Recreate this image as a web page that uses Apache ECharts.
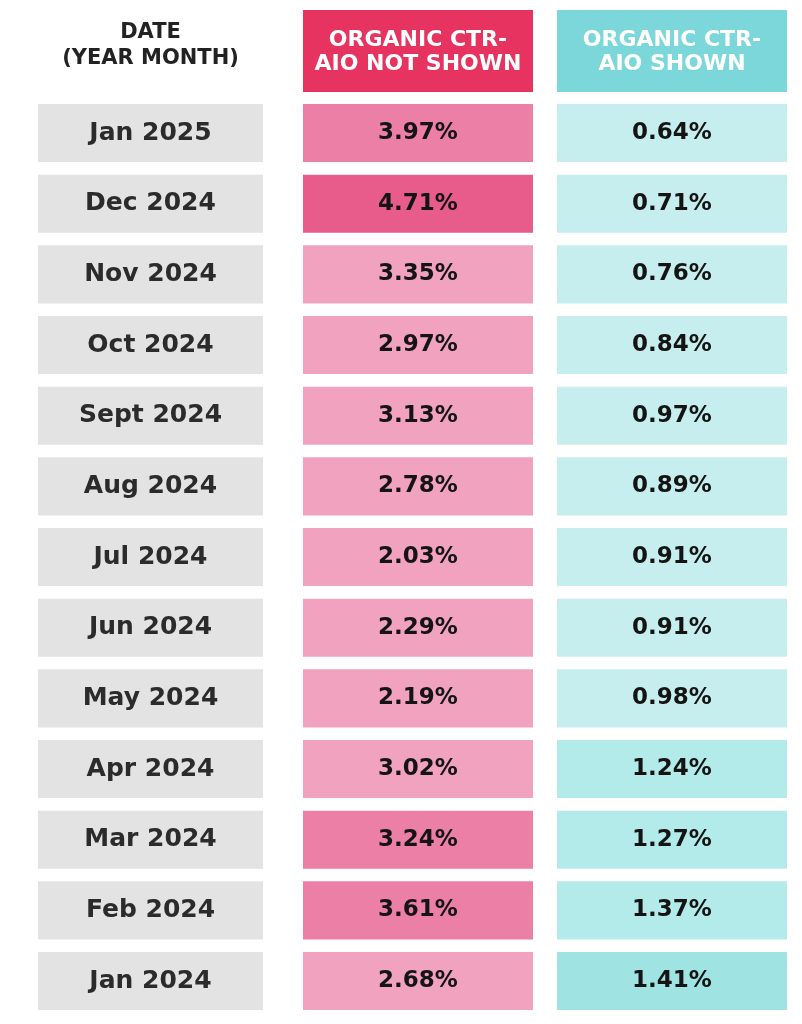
<!DOCTYPE html>
<html>
<head>
<meta charset="utf-8">
<script src="https://cdn.jsdelivr.net/npm/echarts@6/dist/echarts.min.js"></script>
<style>
  html, body { margin: 0; padding: 0; background: #fff; }
  #table { width: 802px; height: 1024px; }
</style>
</head>
<body>
<div id="table"></div>
<script>
var months = ['Jan 2025', 'Dec 2024', 'Nov 2024', 'Oct 2024', 'Sept 2024', 'Aug 2024',
  'Jul 2024', 'Jun 2024', 'May 2024', 'Apr 2024', 'Mar 2024', 'Feb 2024', 'Jan 2024'];
var ctrNotShown = [3.97, 4.71, 3.35, 2.97, 3.13, 2.78, 2.03, 2.29, 2.19, 3.02, 3.24, 3.61, 2.68];
var ctrShown = [0.64, 0.71, 0.76, 0.84, 0.97, 0.89, 0.91, 0.91, 0.98, 1.24, 1.27, 1.37, 1.41];
var headers = ['DATE\n(YEAR MONTH)', 'ORGANIC CTR-\nAIO NOT SHOWN', 'ORGANIC CTR-\nAIO SHOWN'];

var chart = echarts.init(document.getElementById('table'));

// column boxes (left, width) and the row band
var cols = [[38, 225], [303, 230], [557, 230]];
var rowTop = 97.7, rowBand = 70.67, gap = 12.6;

function cell(kind) {
  return function (params, api) {
    var row = api.value(1);
    var cs = params.coordSys;
    var c = api.coord([0, row]);
    var h = api.size([0, 1])[1] - gap;
    var txt, fill, font, color;
    if (kind === 'date') {
      txt = months[row];
      fill = '#e3e3e3';
      font = 'bold 25px "DejaVu Sans"';
      color = '#2b2b2b';
    } else {
      txt = api.value(2).toFixed(2) + '%';
      fill = api.visual('color');
      font = 'bold 23px "DejaVu Sans"';
      color = '#141414';
    }
    return {
      type: 'group',
      children: [{
        type: 'rect',
        shape: { x: cs.x, y: c[1] - h / 2, width: cs.width, height: h },
        style: { fill: fill }
      }, {
        type: 'text',
        x: cs.x + cs.width / 2,
        y: c[1],
        style: { text: txt, fill: color, font: font, align: 'center', verticalAlign: 'middle' }
      }]
    };
  };
}

var grids = [], xAxes = [], yAxes = [];
cols.forEach(function (col, i) {
  grids.push({ left: col[0], width: col[1], top: rowTop, height: rowBand * months.length });
  xAxes.push({ type: 'category', gridIndex: i, data: ['c'], show: false });
  yAxes.push({ type: 'category', gridIndex: i, data: months, inverse: true, show: false });
});

var option = {
  animation: false,
  backgroundColor: '#fff',
  grid: grids,
  xAxis: xAxes,
  yAxis: yAxes,
  visualMap: [{
    type: 'piecewise', show: false, seriesIndex: 1, dimension: 2,
    pieces: [
      { value: 3.24, color: '#ec7fa6' },
      { gte: 4.5, color: '#e85c8b' },
      { gte: 3.5, lt: 4.5, color: '#ec7fa6' },
      { lt: 3.5, color: '#f0a2bf' }
    ]
  }, {
    type: 'piecewise', show: false, seriesIndex: 2, dimension: 2,
    pieces: [
      { gte: 1.4, color: '#9fe3e3' },
      { gte: 1.2, lt: 1.4, color: '#b3ebeb' },
      { lt: 1.2, color: '#c6eeee' }
    ]
  }],
  graphic: [
    {
      type: 'text', x: cols[0][0] + cols[0][1] / 2, y: 46,
      style: { text: headers[0], fill: '#222',
        font: 'bold 21px "DejaVu Sans"', align: 'center', verticalAlign: 'middle', lineHeight: 26 }
    },
    {
      type: 'rect', shape: { x: cols[1][0], y: 10, width: cols[1][1], height: 82 },
      style: { fill: '#e6335f' }
    },
    {
      type: 'text', x: cols[1][0] + cols[1][1] / 2, y: 52,
      style: { text: headers[1], fill: '#fff',
        font: 'bold 22px "DejaVu Sans"', align: 'center', verticalAlign: 'middle', lineHeight: 24 }
    },
    {
      type: 'rect', shape: { x: cols[2][0], y: 10, width: cols[2][1], height: 82 },
      style: { fill: '#7bd7d9' }
    },
    {
      type: 'text', x: cols[2][0] + cols[2][1] / 2, y: 52,
      style: { text: headers[2], fill: '#fff',
        font: 'bold 22px "DejaVu Sans"', align: 'center', verticalAlign: 'middle', lineHeight: 24 }
    }
  ],
  series: [
    {
      type: 'custom', xAxisIndex: 0, yAxisIndex: 0,
      renderItem: cell('date'),
      data: months.map(function (m, i) { return [0, i, 0]; })
    },
    {
      type: 'custom', xAxisIndex: 1, yAxisIndex: 1,
      renderItem: cell('value'),
      data: ctrNotShown.map(function (v, i) { return [0, i, v]; })
    },
    {
      type: 'custom', xAxisIndex: 2, yAxisIndex: 2,
      renderItem: cell('value'),
      data: ctrShown.map(function (v, i) { return [0, i, v]; })
    }
  ]
};

chart.setOption(option);
</script>
</body>
</html>
